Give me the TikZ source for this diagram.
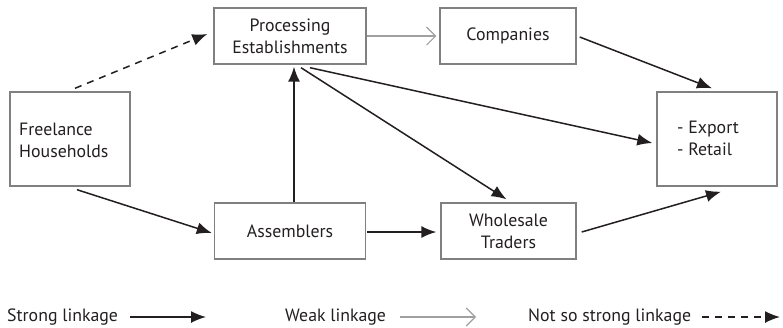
\documentclass[tikz,border=0pt]{standalone}
\usepackage{fontspec}
\setmainfont{PT Sans}
\usetikzlibrary{arrows.meta,calc}
\definecolor{boxgray}{HTML}{808080}
\definecolor{weakgray}{HTML}{A0A0A0}
\definecolor{ink}{HTML}{231F20}
\begin{document}
\begin{tikzpicture}[x=1pt,y=-1pt,
  font=\fontsize{17.8}{22}\selectfont,
  every node/.style={text=ink},
  stagebox/.style={draw=boxgray,line width=1.4pt,inner sep=0pt,align=center},
  strong/.style={draw=ink,line width=1.5pt,-{Latex[length=15pt,width=12pt]}},
  weak/.style={draw=weakgray,line width=1.1pt,-{Straight Barb[length=9pt,width=18pt,line width=1.1pt]}},
  notsostrong/.style={draw=ink,line width=1.5pt,dash pattern=on 7pt off 6pt,-{Latex[length=15pt,width=12pt]}},
  legtext/.style={inner sep=0pt,anchor=west}]
\useasboundingbox (0,0) rectangle (783,327);

% stages of the chain
\node[stagebox,minimum width=152pt,minimum height=56pt] (proc) at (290,36) {Processing\\Establishments};
\node[stagebox,minimum width=136pt,minimum height=56pt] (comp) at (508,36) {Companies};
\node[stagebox,minimum width=120pt,minimum height=94pt] (exp) at (717,139) {};
\node[inner sep=0pt,anchor=west,align=left] (explbl) at (677,138) {- Export\\- Retail};
\node[stagebox,minimum width=120pt,minimum height=94pt] (free) at (70,139) {};
\node[inner sep=0pt,anchor=west,align=left] (freelbl) at (19,140) {Freelance\\Households};
\node[stagebox,minimum width=151pt,minimum height=56pt] (asm) at (290,231) {Assemblers};
\node[stagebox,minimum width=135pt,minimum height=56pt] (whole) at (508.5,231) {Wholesale\\Traders};

% linkages
\draw[notsostrong] ($(free.north)+(5,-3)$) -- ($(proc.west)+(-6,-2)$);
\draw[weak] (proc.east) -- ($(comp.west)+(-3,0)$);
\draw[strong] ($(comp.east)+(3,1)$) -- ($(exp.north)+(-5,-3)$);
\draw[strong] ($(proc.south)+(20,3)$) -- ($(exp.west)+(-4,4)$);
\draw[strong] ($(proc.south)+(11,3)$) -- ($(whole.north)+(-2,-3)$);
\draw[strong] ($(asm.north)+(4,0)$) -- ($(proc.south)+(4,2)$);
\draw[strong] ($(free.south)+(7,3)$) -- ($(asm.west)+(-2,2)$);
\draw[strong] ($(asm.east)+(1,1)$) -- ($(whole.west)+(-4,1)$);
\draw[strong] ($(whole.east)+(5,1)$) -- ($(exp.south)+(4,5)$);

% key
\node[legtext] (k1) at (7,317) {Strong linkage};
\coordinate (k1a) at (130,317);
\coordinate (k1b) at (206,317);
\draw[strong] (k1a) -- (k1b);
\node[legtext] (k2) at (285,317) {Weak linkage};
\coordinate (k2a) at (400,317);
\coordinate (k2b) at (476,317);
\draw[weak] (k2a) -- (k2b);
\node[legtext] (k3) at (528,317) {Not so strong linkage};
\coordinate (k3a) at (702,317);
\coordinate (k3b) at (780,317);
\draw[notsostrong] (k3a) -- (k3b);
\end{tikzpicture}
\end{document}
